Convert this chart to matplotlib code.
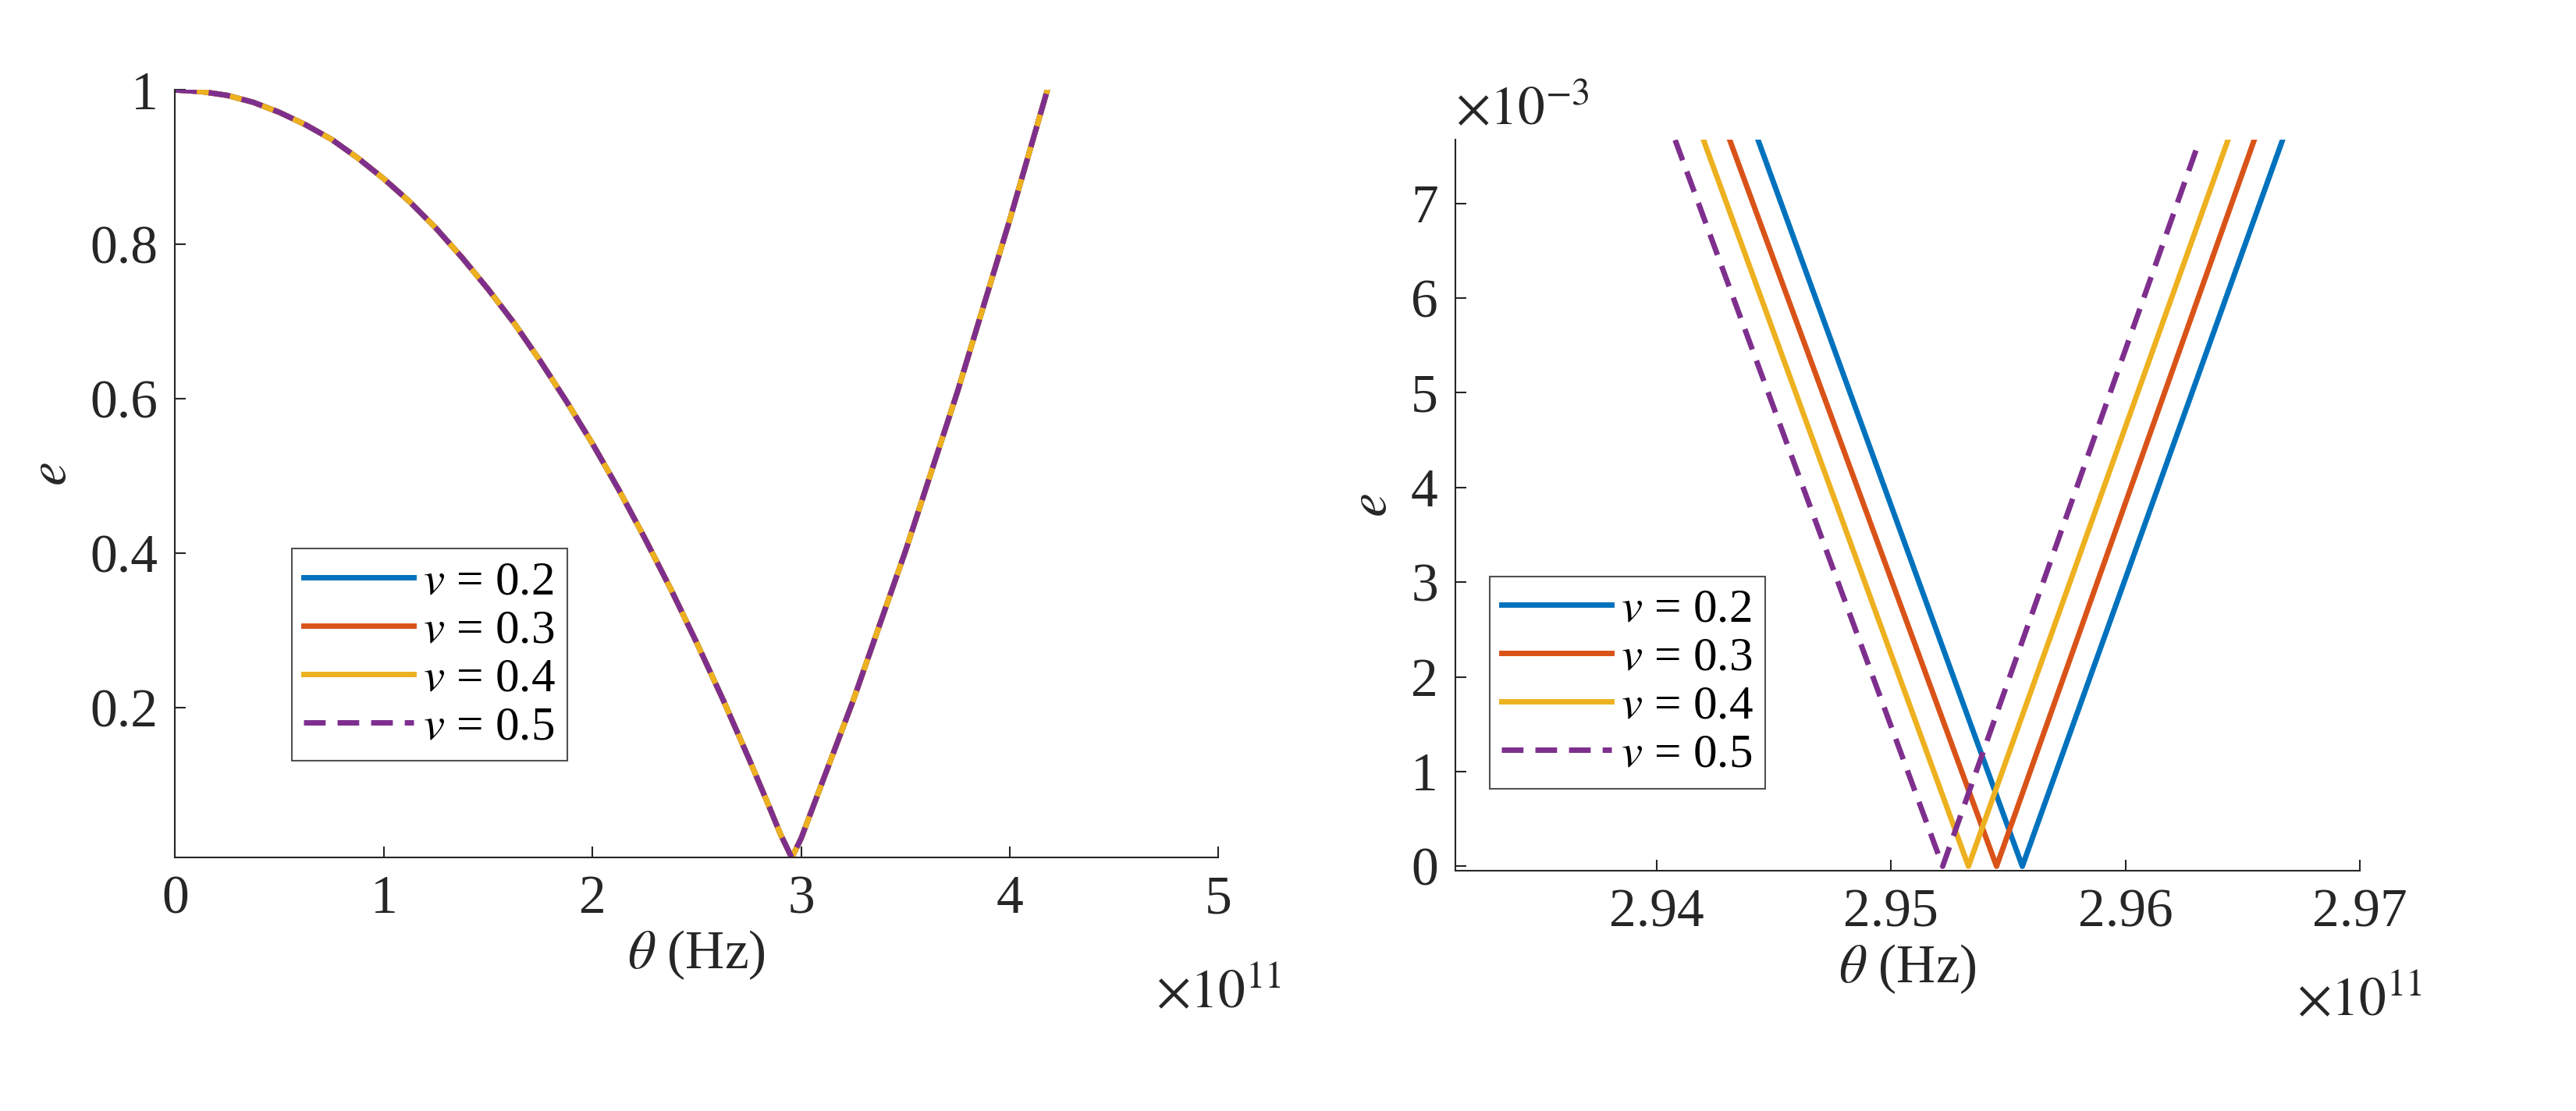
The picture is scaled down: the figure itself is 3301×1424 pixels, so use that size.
import matplotlib
matplotlib.use("Agg")
import matplotlib.pyplot as plt

plt.rcParams['font.family'] = ['Liberation Serif', 'DejaVu Serif']
plt.rcParams['mathtext.fontset'] = 'stix'

labels = ['$v$ = 0.2', '$v$ = 0.3', '$v$ = 0.4', '$v$ = 0.5']
colors = ['#0072BD', '#D95319', '#EDB120', '#7E2F8E']

# Left panel (theta in 1e11 Hz) - identical for all v
theta_full = [0, 0.125, 0.25, 0.375, 0.5, 0.625, 0.75, 0.875, 1.0, 1.125, 1.25, 1.375, 1.5,
              1.625, 1.75, 1.875, 2.0, 2.125, 2.25, 2.375, 2.5, 2.625, 2.75, 2.85, 2.9, 2.955,
              3.0, 3.25, 3.5, 3.75, 4.0, 4.18]
e_full = [1.0, 0.998, 0.993, 0.984, 0.971, 0.955, 0.936, 0.912, 0.885, 0.855, 0.821, 0.783,
          0.742, 0.698, 0.649, 0.597, 0.542, 0.483, 0.420, 0.354, 0.284, 0.211, 0.134,
          0.070, 0.037, 0.006, 0.031, 0.210, 0.403, 0.610, 0.832, 1.0]

# Right panel (theta in 1e11 Hz, e in 1e-3)
theta_zoom = {
    '0.2': [2.94432, 2.9556, 2.96671],
    '0.3': [2.94311, 2.9545, 2.9655],
    '0.4': [2.94199, 2.9533, 2.96438],
    '0.5': [2.94078, 2.9522, 2.96317],
}
e_zoom = [7.67, 0.0, 7.67]

fig = plt.figure(figsize=(33.01, 14.24), dpi=100)
ax1 = fig.add_axes([0.068, 0.228, 0.405, 0.691])
ax2 = fig.add_axes([0.565, 0.216, 0.351, 0.658])

lw = 5
fs = 50
for i, (lab, c) in enumerate(zip(labels, colors)):
    ls = (0, (4, 2.2)) if i == 3 else '-'
    ax1.plot(theta_full, e_full, color=c, lw=lw, linestyle=ls, label=lab)
    key = list(theta_zoom.keys())[i]
    ax2.plot(theta_zoom[key], e_zoom, color=c, lw=lw, linestyle=ls, label=lab)

ax1.set_xlim(0, 5)
ax1.set_ylim(0.006, 1.0)
ax1.set_xticks([0, 1, 2, 3, 4, 5])
ax1.set_xticklabels(['0', '1', '2', '3', '4', '5'])
ax1.set_yticks([0.2, 0.4, 0.6, 0.8, 1.0])
ax1.set_yticklabels(['0.2', '0.4', '0.6', '0.8', '1'])

ax2.set_xlim(2.9314, 2.97)
ax2.set_ylim(-0.05, 7.67)
ax2.set_xticks([2.94, 2.95, 2.96, 2.97])
ax2.set_xticklabels(['2.94', '2.95', '2.96', '2.97'])
ax2.set_yticks(range(0, 8))

for ax in (ax1, ax2):
    for s in ('top', 'right'):
        ax.spines[s].set_visible(False)
    for s in ('left', 'bottom'):
        ax.spines[s].set_linewidth(1.5)
        ax.spines[s].set_color('#262626')
    ax.tick_params(direction='in', length=10, width=1.5, labelsize=fs, colors='#262626', pad=16)
    ax.set_xlabel(r'$\theta$ (Hz)', fontsize=fs, color='#262626', labelpad=4)
    ax.set_ylabel('$e$', fontsize=fs, color='#262626', labelpad=12)
    ax.text(1.0, -0.145, r'$\times 10^{11}$', transform=ax.transAxes, fontsize=fs,
            ha='center', va='top', color='#262626')

ax2.text(0.0, 1.005, r'$\times 10^{-3}$', transform=ax2.transAxes, fontsize=fs,
         ha='left', va='bottom', color='#262626')

leg_kw = dict(fontsize=44, frameon=True, fancybox=False, edgecolor='#262626',
              handlelength=2.3, handletextpad=0.2, borderpad=0.25, labelspacing=0.1,
              borderaxespad=0)
l1 = ax1.legend(loc='lower left', bbox_to_anchor=(0.112, 0.126), **leg_kw)
l2 = ax2.legend(loc='lower left', bbox_to_anchor=(0.038, 0.113), **leg_kw)
for l in (l1, l2):
    l.get_frame().set_linewidth(1.5)

fig.savefig('out.png', dpi=100)
